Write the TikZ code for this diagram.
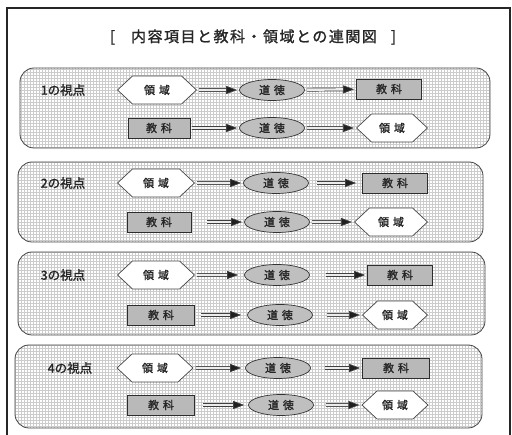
\documentclass[tikz,border=0pt]{standalone}
\usepackage{fontspec}
\setmainfont[FakeBold=1.6]{Noto Sans CJK JP}
\newfontfamily\jpsp[LetterSpace=35,FakeBold=1.6]{Noto Sans CJK JP}
\newfontfamily\jptitle[LetterSpace=10,FakeBold=1.4]{Noto Sans CJK JP}
\usetikzlibrary{shapes.geometric,shapes.symbols,patterns,arrows.meta}
\begin{document}
\begin{tikzpicture}[x=1pt,y=-1pt,
  panel/.style={draw=gray!55!black, line width=0.8pt, rounded corners=14pt, pattern=grid, pattern color=gray!40},
  hexbox/.style={signal, signal to=west and east, signal pointer angle=86, draw=gray!55!black, fill=white, line width=0.7pt, minimum height=28pt, inner sep=0pt, font=\jpsp\fontsize{11}{13}\selectfont, text=black!85},
  subjbox/.style={rectangle, draw=gray!35!black, fill=gray!55, line width=0.7pt, minimum height=20pt, inner sep=0pt, font=\jpsp\fontsize{11}{13}\selectfont, text=black!85},
  moralbox/.style={ellipse, draw=gray!40!black, fill=gray!50, line width=0.7pt, minimum width=65pt, minimum height=21pt, inner sep=0pt, font=\jpsp\fontsize{11}{13}\selectfont, text=black!85},
  viewlbl/.style={font=\fontsize{12.5}{14}\selectfont, text=black!85},
  arr/.style={draw=gray!50!black, double=gray!15, double distance=2.4pt, line width=0.7pt, -{Triangle[length=11pt,width=8pt,fill=gray!25!black]}, shorten <=2pt, shorten >=2pt}
]
\useasboundingbox (0,0) rectangle (512,435);
\fill[white] (0,0) rectangle (512,435);
% outer frame
\draw[gray!30!black, line width=1.4pt] (7,440) -- (7,8) -- (510,8) -- (510,440);
% title
\node[font=\jptitle\fontsize{15}{18}\selectfont, text=black!85] (title) at (253,37) {[\hspace{16pt}内容項目と教科・領域との連関図\hspace{14pt}]};

% panels
\draw[panel] (20,68) rectangle (490,148);
\draw[panel] (18,162) rectangle (483,242);
\draw[panel] (18,252) rectangle (485,335);
\draw[panel] (15,345) rectangle (482,428);

% panel 1
\node[viewlbl] (l1) at (63,90) {1の視点};
\node[hexbox, minimum width=79pt] (p1a) at (157,90) {領域};
\node[moralbox] (p1b) at (272,90) {道徳};
\node[subjbox, minimum width=65pt] (p1c) at (389,89) {教科};
\node[subjbox, minimum width=62pt] (p1d) at (159,128) {教科};
\node[moralbox] (p1e) at (272,128) {道徳};
\node[hexbox, minimum width=71pt] (p1f) at (392,128) {領域};
\draw[arr] (p1a) -- (p1b);
\draw[arr] (p1b) -- (p1c);
\draw[arr] (p1d) -- (p1e);
\draw[arr] (p1e) -- (p1f);

% panel 2
\node[viewlbl] (l2) at (63,183) {2の視点};
\node[hexbox, minimum width=77pt] (p2a) at (156,183) {領域};
\node[moralbox] (p2b) at (276,183) {道徳};
\node[subjbox, minimum width=65pt] (p2c) at (395,183) {教科};
\node[subjbox, minimum width=64pt] (p2d) at (159,222) {教科};
\node[moralbox] (p2e) at (277,222) {道徳};
\node[hexbox, minimum width=73pt] (p2f) at (391,222) {領域};
\draw[arr] (p2a) -- (p2b);
\draw[arr, shorten <=8pt, shorten >=6pt] (p2b) -- (p2c);
\draw[arr, shorten <=16pt] (p2d) -- (p2e);
\draw[arr] (p2e) -- (p2f);

% panel 3
\node[viewlbl] (l3) at (63,275) {3の視点};
\node[hexbox, minimum width=77pt] (p3a) at (156,275) {領域};
\node[moralbox] (p3b) at (277,275) {道徳};
\node[subjbox, minimum width=65pt] (p3c) at (400,275) {教科};
\node[subjbox, minimum width=67pt] (p3d) at (161,315) {教科};
\node[moralbox] (p3e) at (280,315) {道徳};
\node[hexbox, minimum width=65pt] (p3f) at (395,315) {領域};
\draw[arr, shorten >=6pt] (p3a) -- (p3b);
\draw[arr, shorten <=16pt] (p3b) -- (p3c);
\draw[arr, shorten <=6pt, shorten >=6pt] (p3d) -- (p3e);
\draw[arr, shorten <=14pt] (p3e) -- (p3f);

% panel 4
\node[viewlbl] (l4) at (70,368) {4の視点};
\node[hexbox, minimum width=76pt] (p4a) at (155,368) {領域};
\node[moralbox] (p4b) at (278,368) {道徳};
\node[subjbox, minimum width=67pt] (p4c) at (396,368) {教科};
\node[subjbox, minimum width=67pt] (p4d) at (161,405) {教科};
\node[moralbox] (p4e) at (281,405) {道徳};
\node[hexbox, minimum width=66pt] (p4f) at (395,405) {領域};
\draw[arr, shorten >=4pt] (p4a) -- (p4b);
\draw[arr, shorten <=14pt] (p4b) -- (p4c);
\draw[arr, shorten <=8pt, shorten >=4pt] (p4d) -- (p4e);
\draw[arr, shorten <=12pt] (p4e) -- (p4f);
\end{tikzpicture}
\end{document}
